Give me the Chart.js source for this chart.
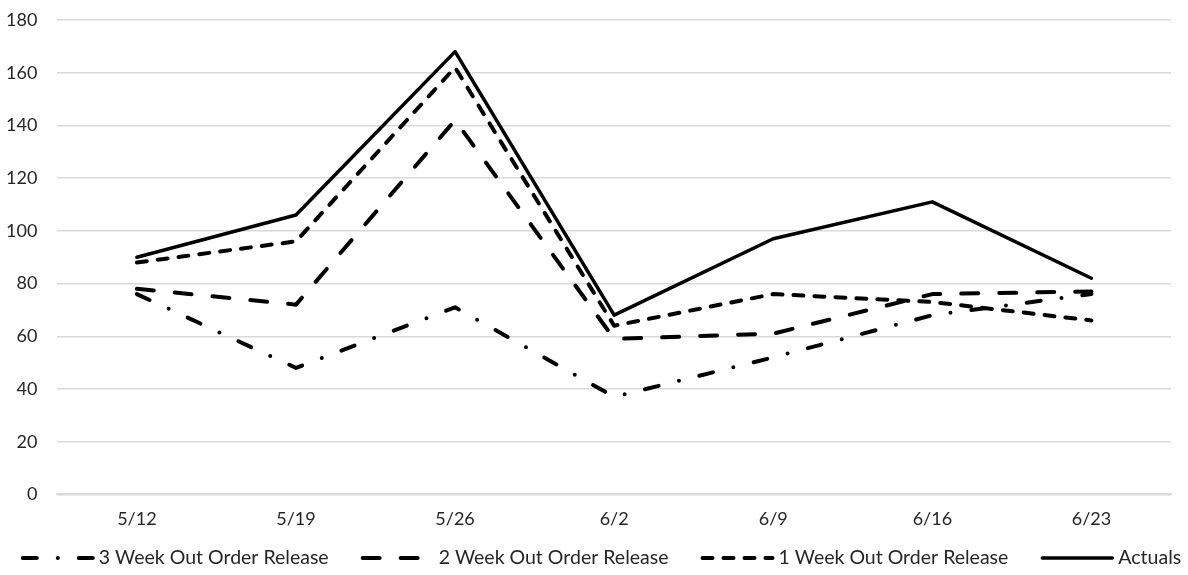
<!DOCTYPE html>
<html>
<head>
<meta charset="utf-8">
<script src="https://cdn.jsdelivr.net/npm/chart.js@4/dist/chart.umd.min.js"></script>
<style>
html,body{margin:0;padding:0;background:#fff;}
#wrap{width:1188px;height:575px;position:relative;}
</style>
</head>
<body>
<div id="wrap"><canvas id="c" width="1188" height="575"></canvas></div>
<script>
const categories = ["5/12","5/19","5/26","6/2","6/9","6/16","6/23"];
const week3 = [76, 48, 71, 37, 52, 68, 76];
const week2 = [78, 72, 142, 59, 61, 76, 77];
const week1 = [88, 96, 162, 64, 76, 73, 66];
const actuals = [90, 106, 168, 68, 97, 111, 82];
const yTicks = [0,20,40,60,80,100,120,140,160,180];

const FONT = "Lato, 'Liberation Sans', sans-serif";
const TICK_FS = 18;
const LEG_FS = 19.5;
const TXT = "#262626";
Chart.defaults.font.family = FONT;

function ds(label, data, dash, width){
  return {label, data, borderColor:"#000", backgroundColor:"#000", borderWidth:width,
    borderDash:dash, borderCapStyle:"round", borderJoinStyle:"round",
    pointRadius:0, pointHoverRadius:0, tension:0, fill:false};
}

const legendPlugin = {
  id:"customLegend",
  afterDraw(chart){
    const ctx = chart.ctx;
    ctx.save();
    ctx.font = LEG_FS + "px " + FONT;
    const sampleLen = 72, gapText = 6, gapItem = 32;
    const items = chart.data.datasets.map(d => ({d, w: ctx.measureText(d.label).width}));
    const total = items.reduce((s,it)=>s+sampleLen+gapText+it.w,0) + gapItem*(items.length-1);
    let x = 601 - total/2;
    const y = 558;
    for(const it of items){
      ctx.strokeStyle = "#000";
      ctx.lineWidth = it.d.borderWidth;
      ctx.lineCap = "round";
      ctx.setLineDash(it.d.borderDash || []);
      ctx.beginPath(); ctx.moveTo(x+2, y); ctx.lineTo(x+sampleLen, y); ctx.stroke();
      ctx.setLineDash([]);
      ctx.fillStyle = TXT; ctx.textBaseline = "middle"; ctx.textAlign = "left";
      ctx.fillText(it.d.label, x+sampleLen+gapText, y);
      x += sampleLen + gapText + it.w + gapItem;
    }
    ctx.restore();
  }
};

new Chart(document.getElementById("c"), {
  type:"line",
  data:{
    labels:categories,
    datasets:[
      ds("3 Week Out Order Release", week3, [14,21,0,21], 4),
      ds("2 Week Out Order Release", week2, [17,21], 4),
      ds("1 Week Out Order Release", week1, [10,11], 4),
      ds("Actuals", actuals, [], 3.5)
    ]
  },
  plugins:[legendPlugin],
  options:{
    responsive:false, animation:false,
    layout:{padding:{left:-14,right:17,top:20,bottom:31}},
    plugins:{ legend:{display:false}, tooltip:{enabled:false} },
    scales:{
      x:{offset:true, grid:{display:false, drawTicks:false}, border:{display:true, color:"#d9d9d9", width:2},
        ticks:{font:{size:TICK_FS}, color:TXT, padding:14, maxRotation:0, autoSkip:false}},
      y:{min:0, max:180, afterBuildTicks:(ax)=>{ax.ticks = yTicks.map(v=>({value:v}));},
        afterFit:(sc)=>{sc.paddingTop = 0; sc.paddingBottom = 0;},
        grid:{color:"#d9d9d9", lineWidth:1.5, drawTicks:false}, border:{display:false},
        ticks:{font:{size:TICK_FS}, color:TXT, padding:20}}
    }
  }
});
</script>
</body>
</html>
